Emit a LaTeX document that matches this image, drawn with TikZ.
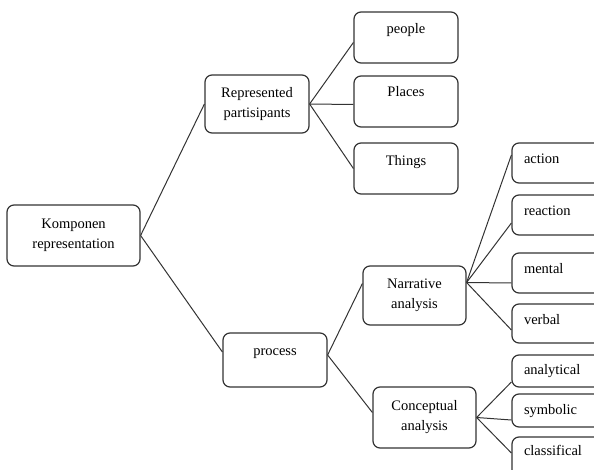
\documentclass[tikz,border=0pt]{standalone}
\usepackage{fontspec}
\setmainfont{Liberation Serif}
\usepackage{xcolor}
\usepackage{tikz}
\tikzset{
    scatola/.style={draw=black!80, line width=1.2pt, rounded corners=7pt, align=center, inner sep=2pt, text=black, font=\fontsize{14.5}{20}\selectfont},
    alto/.style={text height=10pt, text depth=#1},
    alto/.default=3pt,
    foglia/.style={scatola, alto=#1, text width=76pt, align=left, inner xsep=12pt},
    foglia/.default=3pt,
    ramo/.style={black!80, line width=1pt}
}

\begin{document}
\begin{tikzpicture}[x=1pt, y=-1pt]
    % Area del disegno
    \useasboundingbox (0,0) rectangle (594,470);

    % Radice
    \node[scatola, minimum width=133pt, minimum height=61pt] (komp) at (73.5,235.5) {Komponen\\representation};

    % Primo livello
    \node[scatola, minimum width=104pt, minimum height=58pt] (rep) at (257,104) {Represented\\partisipants};
    \node[scatola, alto=19pt, minimum width=104pt, minimum height=54pt] (proc) at (275,360) {process};

    % Partecipanti
    \node[scatola, alto=18pt, minimum width=104pt, minimum height=51pt] (people) at (406,37.5) {people};
    \node[scatola, alto=20pt, minimum width=104pt, minimum height=51pt] (places) at (406,101.5) {Places};
    \node[scatola, alto=16pt, minimum width=104pt, minimum height=51pt] (things) at (406,168.5) {Things};

    % Processi
    \node[scatola, minimum width=103pt, minimum height=59pt] (narr) at (414.5,295.5) {Narrative\\analysis};
    \node[scatola, minimum width=103pt, minimum height=61pt] (conc) at (424.5,417.5) {Conceptual\\analysis};

    % Collegamenti principali
    \draw[ramo] (komp.east) -- (rep.west);
    \draw[ramo] (komp.east) -- ([yshift=8pt]proc.west);
    \draw[ramo] (rep.east) -- ([yshift=-5pt]people.west);
    \draw[ramo] (rep.east) -- ([yshift=-3pt]places.west);
    \draw[ramo] (rep.east) -- (things.west);
    \draw[ramo] ([yshift=5pt]proc.east) -- ([yshift=12pt]narr.west);
    \draw[ramo] ([yshift=5pt]proc.east) -- ([yshift=5pt]conc.west);

    % Foglie narrative (tagliate a destra)
    \foreach \nome/\testo/\y/\h/\d/\o in {act/action/163/40pt/9pt/8pt, react/reaction/215/40pt/9pt/-8pt, ment/mental/273/40pt/9pt/-10pt, verb/verbal/323.5/39pt/8pt/-6.5pt}{
        \node[foglia=\d, minimum height=\h] (\nome) at (562,\y) {\testo};
        \draw[ramo] ([yshift=13pt]narr.east) -- ([yshift=\o]\nome.west);
    }

    % Foglie concettuali
    \foreach \nome/\testo/\y/\h/\d/\o in {anal/analytical/371/32pt/3pt/-11pt, simb/symbolic/410.5/33pt/2pt/-9.5pt, clas/classifical/457/40pt/13pt/4pt}{
        \node[foglia=\d, minimum height=\h] (\nome) at (562,\y) {\testo};
        \draw[ramo] (conc.east) -- ([yshift=\o]\nome.west);
    }
\end{tikzpicture}
\end{document}
